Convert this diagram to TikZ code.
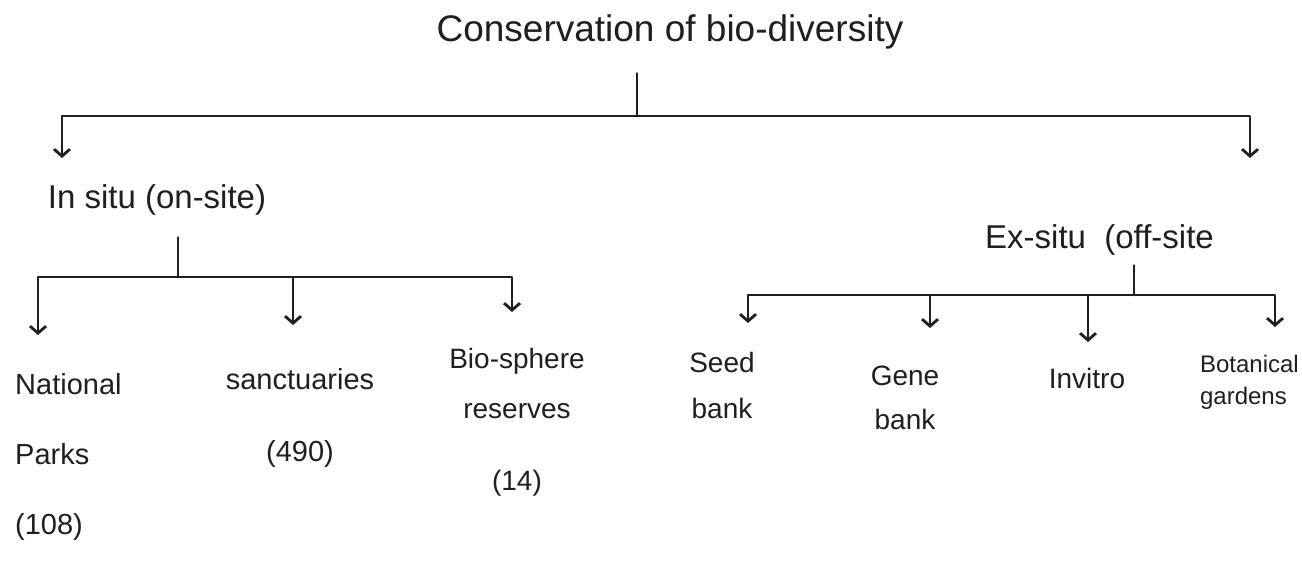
\documentclass[tikz,border=0pt]{standalone}
\usepackage{fontspec}
\setmainfont{Liberation Sans}
\usetikzlibrary{arrows.meta}
\begin{document}
\begin{tikzpicture}[x=1pt,y=-1pt]
\tikzset{
  conn/.style={draw=black!88, line width=2.8pt, line cap=round, line join=round},
  arr/.style={conn, -{Straight Barb[length=7pt,width=16pt]}},
  lbl/.style={font=\fontsize{28}{34}\selectfont, text=black!88, inner sep=0pt, align=center},
  ttl/.style={font=\fontsize{37}{42}\selectfont, text=black!88, inner sep=0pt}
}
\clip (0,0) rectangle (1302,562);
\fill[white] (0,0) rectangle (1302,562);
% title
\node[ttl] (title) at (670,32) {Conservation of bio-diversity};
\coordinate (j0) at (637,116);
\coordinate (a1) at (62,158);
\coordinate (a2) at (1250,158);
\draw[conn, shorten <=24pt] (title.south -| j0) -- (j0);
\draw[arr] (j0) -| (a1);
\draw[arr] (j0) -| (a2);
% in situ
\node[lbl, font=\fontsize{33}{38}\selectfont] (insitu) at (157,200) {In situ (on-site)};
\coordinate (j1) at (178,277);
\coordinate (b1) at (38,335);
\coordinate (b2) at (293,325);
\coordinate (b3) at (512,312);
\draw[conn, shorten <=22pt] (insitu.south -| j1) -- (j1);
\draw[arr] (j1) -| (b1);
\draw[arr] (j1) -| (b2);
\draw[arr] (j1) -| (b3);
\node[lbl, align=left, anchor=north west, font=\fontsize{29}{70}\selectfont] (np) at (15,373) {National\\Parks\\(108)};
\node[lbl, anchor=north, font=\fontsize{29}{72}\selectfont] (sanct) at (300,368) {sanctuaries\\(490)};
\node[lbl, anchor=north, font=\fontsize{28}{50}\selectfont] (bio) at (517,348) {Bio-sphere\\reserves\\[22pt](14)};
% ex situ
\node[lbl, anchor=west, font=\fontsize{33}{38}\selectfont] (exsitu) at (985,240) {Ex-situ\ \ (off-site};
\coordinate (j2) at (1134,295);
\coordinate (c1) at (748,323);
\coordinate (c2) at (930,328);
\coordinate (c3) at (1088,342);
\coordinate (c4) at (1275,327);
\draw[conn, shorten <=10pt] (exsitu.south -| j2) -- (j2);
\draw[arr] (j2) -| (c1);
\draw[arr] (j2) -| (c2);
\draw[arr] (j2) -| (c3);
\draw[arr] (j2) -| (c4);
\node[lbl, anchor=north, font=\fontsize{28}{46}\selectfont] (seed) at (722,352) {Seed\\bank};
\node[lbl, anchor=north, font=\fontsize{28}{44}\selectfont] (gene) at (905,366) {Gene\\bank};
\node[lbl, anchor=north] (invitro) at (1087,368) {Invitro};
\node[lbl, anchor=north east, align=left, font=\fontsize{24}{32}\selectfont] (bot) at (1299,355) {Botanical\\gardens};
\end{tikzpicture}
\end{document}
